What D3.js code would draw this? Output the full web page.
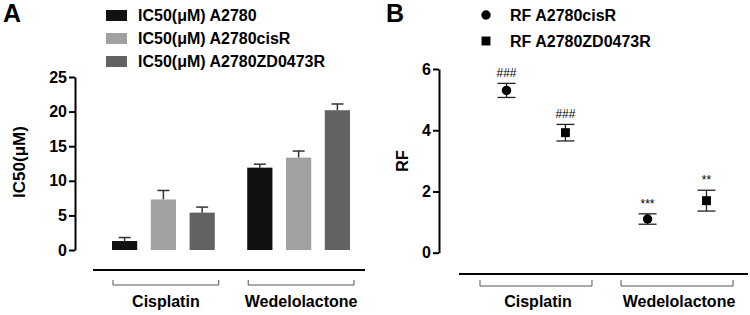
<!DOCTYPE html>
<html>
<head>
<meta charset="utf-8">
<script src="https://cdn.jsdelivr.net/npm/d3@7"></script>
<style>
  body { margin: 0; background: #fff; }
  text { font-family: "Liberation Sans", Arial, sans-serif; }
</style>
</head>
<body>
<div id="chart"></div>
<script>
// Data
var groups = ["Cisplatin", "Wedelolactone"]
var icSeries = ["IC50(μM) A2780", "IC50(μM) A2780cisR", "IC50(μM) A2780ZD0473R"]
var icColors = ["#111111", "#a1a1a4", "#626262"]
var icMeans = [[1.3, 7.3, 5.4], [11.9, 13.35, 20.2]]
var icErrs = [[0.5, 1.3, 0.8], [0.5, 0.95, 0.9]]
var icTicks = [0, 5, 10, 15, 20, 25]

var rfSeries = ["RF A2780cisR", "RF A2780ZD0473R"]
var rfMeans = [[5.3, 3.92], [1.1, 1.7]]
var rfErrs = [[0.23, 0.27], [0.17, 0.34]]
var rfStars = [["###", "###"], ["***", "**"]]
var rfTicks = [0, 2, 4, 6]

var svg = d3.select('#chart').append('svg')
  .attr("width", 750)
  .attr("height", 315)

// ---------- Panel A ----------
var yA = d3.scaleLinear().domain([0, 25]).range([250, 77])
var xA = d3.scaleBand().domain(groups).range([112, 350]).paddingInner(0.24)
var xA2 = d3.scaleBand().domain(d3.range(icSeries.length)).range([0, xA.bandwidth()]).paddingInner(0.35)

svg.append("text").attr("x", 3).attr("y", 22)
  .attr("font-size", 25).attr("font-weight", "bold").text("A")

// legend
icSeries.forEach(function(s, i) {
  svg.append("rect").attr("x", 106).attr("y", 10 + i * 23).attr("width", 21).attr("height", 11)
    .attr("fill", icColors[i])
  svg.append("text").attr("x", 138).attr("y", 21 + i * 23)
    .attr("font-size", 16).attr("font-weight", "bold").text(s)
})

var axA = svg.append('g')
  .attr('transform', 'translate(75,0)')
  .call(d3.axisLeft(yA).tickValues(icTicks).tickSize(6).tickSizeOuter(0))
axA.select(".domain").attr("stroke-width", 2)
axA.selectAll(".tick line").attr("stroke-width", 2)
axA.selectAll(".tick text").attr("font-size", 16).attr("font-weight", "bold")
  .attr("font-family", "Liberation Sans, Arial, sans-serif").attr("x", -8)

svg.append("text")
  .attr("transform", "translate(25,162) rotate(-90)")
  .attr("text-anchor", "middle").attr("font-size", 17).attr("font-weight", "bold")
  .text("IC50(μM)")

groups.forEach(function(g, gi) {
  icMeans[gi].forEach(function(v, si) {
    var x0 = xA(g) + xA2(si), w = xA2.bandwidth(), cx = x0 + w / 2
    var top = yA(v + icErrs[gi][si])
    svg.append("line").attr("x1", cx).attr("x2", cx).attr("y1", yA(v)).attr("y2", top)
      .attr("stroke", "#333").attr("stroke-width", 1.5)
    svg.append("line").attr("x1", cx - 6).attr("x2", cx + 6).attr("y1", top).attr("y2", top)
      .attr("stroke", "#333").attr("stroke-width", 1.5)
    svg.append("rect").attr("x", x0).attr("y", yA(v)).attr("width", w)
      .attr("height", yA(0) - yA(v)).attr("fill", icColors[si])
  })
})

svg.append("line").attr("x1", 93).attr("x2", 365).attr("y1", 270).attr("y2", 270)
  .attr("stroke", "#000").attr("stroke-width", 2)

groups.forEach(function(g) {
  var x0 = xA(g) + 1, x1 = xA(g) + xA.bandwidth() + 4
  svg.append("path").attr("d", "M" + x0 + ",280V285H" + x1 + "V280")
    .attr("fill", "none").attr("stroke", "#555").attr("stroke-width", 1)
  svg.append("text").attr("x", (x0 + x1) / 2).attr("y", 307).attr("text-anchor", "middle")
    .attr("font-size", 16).attr("font-weight", "bold").text(g)
})

// ---------- Panel B ----------
var yB = d3.scaleLinear().domain([0, 6]).range([252.7, 69])
var xB = d3.scaleBand().domain(groups).range([480, 733]).paddingInner(0.206)
var xB2 = d3.scalePoint().domain(d3.range(rfSeries.length)).range([0, xB.bandwidth()]).padding(0.45)

svg.append("text").attr("x", 386).attr("y", 22)
  .attr("font-size", 25).attr("font-weight", "bold").text("B")

var sym = [d3.symbolCircle, d3.symbolSquare]
var symSize = [70, 80]

rfSeries.forEach(function(s, i) {
  svg.append("path").attr("d", d3.symbol().type(sym[i]).size(symSize[i])())
    .attr("transform", "translate(486," + (15 + i * 26) + ")").attr("fill", "#000")
  svg.append("text").attr("x", 510).attr("y", 21 + i * 26)
    .attr("font-size", 16).attr("font-weight", "bold").text(s)
})

var axB = svg.append('g')
  .attr('transform', 'translate(439,0)')
  .call(d3.axisLeft(yB).tickValues(rfTicks).tickFormat(d3.format("d")).tickSize(6).tickSizeOuter(0))
axB.select(".domain").attr("stroke-width", 2)
axB.selectAll(".tick line").attr("stroke-width", 2)
axB.selectAll(".tick text").attr("font-size", 16).attr("font-weight", "bold")
  .attr("font-family", "Liberation Sans, Arial, sans-serif").attr("x", -8)

svg.append("text")
  .attr("transform", "translate(408,161) rotate(-90)")
  .attr("text-anchor", "middle").attr("font-size", 16).attr("font-weight", "bold")
  .text("RF")

groups.forEach(function(g, gi) {
  rfMeans[gi].forEach(function(v, si) {
    var cx = xB(g) + xB2(si)
    var e = rfErrs[gi][si]
    var yt = yB(v + e), yb = yB(v - e)
    svg.append("line").attr("x1", cx).attr("x2", cx).attr("y1", yt).attr("y2", yb)
      .attr("stroke", "#222").attr("stroke-width", 1.3)
    ;[yt, yb].forEach(function(yy) {
      svg.append("line").attr("x1", cx - 9).attr("x2", cx + 9).attr("y1", yy).attr("y2", yy)
        .attr("stroke", "#222").attr("stroke-width", 1.3)
    })
    svg.append("path").attr("d", d3.symbol().type(sym[si]).size(symSize[si])())
      .attr("transform", "translate(" + cx + "," + yB(v) + ")").attr("fill", "#000")
    svg.append("text").attr("x", cx).attr("y", yt - 6).attr("text-anchor", "middle")
      .attr("font-size", 12).attr("fill", "#000").text(rfStars[gi][si])
  })
})

svg.append("line").attr("x1", 459).attr("x2", 748).attr("y1", 274).attr("y2", 274)
  .attr("stroke", "#000").attr("stroke-width", 2)

groups.forEach(function(g) {
  var x0 = xB(g), x1 = xB(g) + xB.bandwidth()
  svg.append("path").attr("d", "M" + x0 + ",280V286H" + x1 + "V280")
    .attr("fill", "none").attr("stroke", "#555").attr("stroke-width", 1)
  svg.append("text").attr("x", (x0 + x1) / 2 + 2).attr("y", 307).attr("text-anchor", "middle")
    .attr("font-size", 16).attr("font-weight", "bold").text(g)
})
</script>
</body>
</html>
